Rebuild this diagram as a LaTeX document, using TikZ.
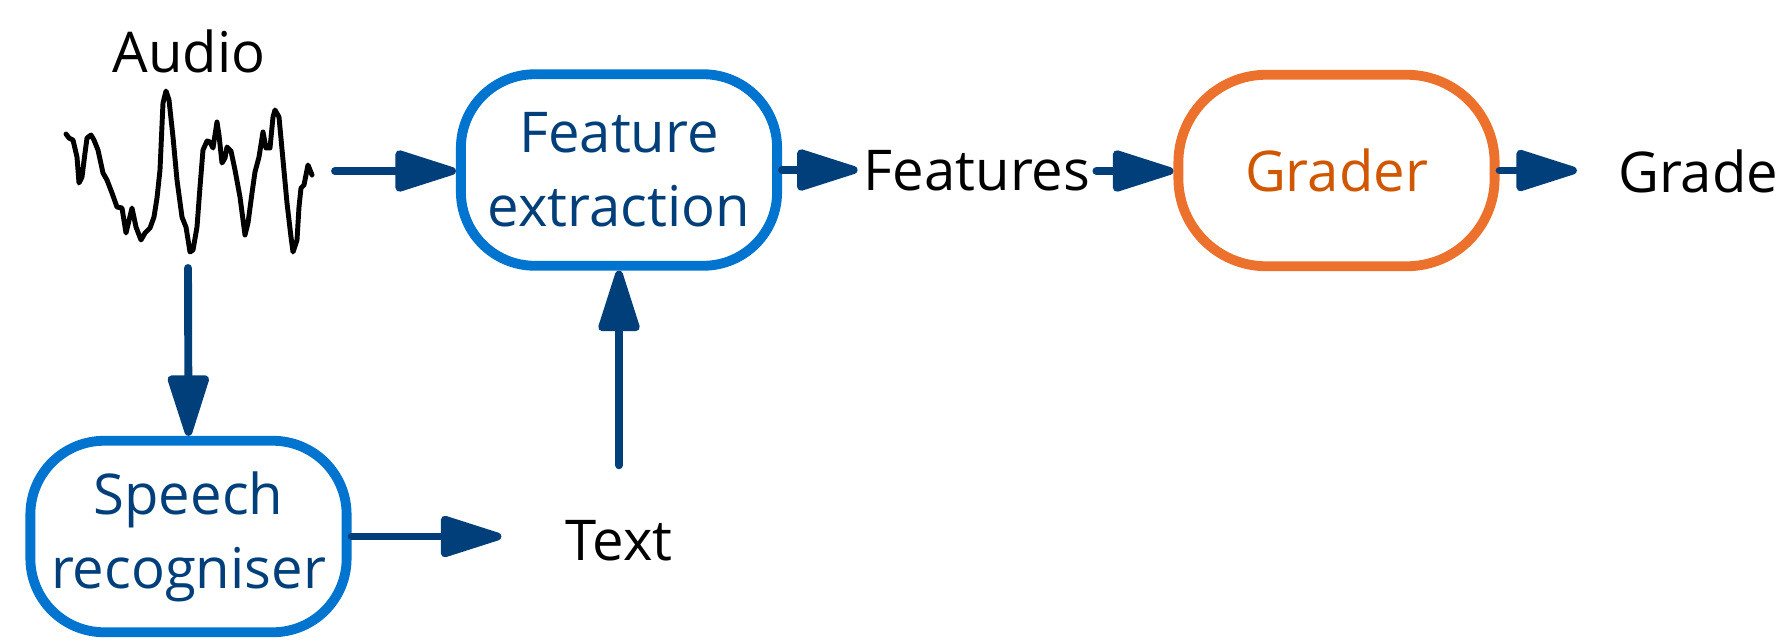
\documentclass[tikz,border=0pt]{standalone}
\usepackage{fontspec}
\setmainfont{Open Sans}
\usetikzlibrary{arrows.meta, positioning}
\definecolor{navyblue}{RGB}{0, 63, 122}
\definecolor{boxblue}{RGB}{0, 116, 206}
\definecolor{boxorange}{RGB}{236, 113, 45}
\definecolor{darkorange}{RGB}{208, 86, 0}

\begin{document}
\begin{tikzpicture}[> = {Triangle[length=40pt, width=24pt, round]}, x=0.02cm, y=-0.02cm,
	blockbox/.style={draw=boxblue, line width=5.6pt, rounded corners=42pt, minimum width=180pt, minimum height=109pt, align=center, text=navyblue, font=\fontsize{32}{42}\selectfont},
	gradebox/.style={blockbox, draw=boxorange, text=darkorange, rounded corners=50pt},
	lbl/.style={font=\fontsize{32}{42}\selectfont, text=black},
	arr/.style={->, navyblue, line width=4.5pt, line cap=round}]
	\useasboundingbox (0,0) rectangle (1778,640);

	% audio waveform
	\node[lbl] (audio) at (189,51) {Audio};
	\draw[line width=2.8pt, line join=round, line cap=round] plot coordinates {
		(66,134) (69,138) (73,140) (77,157) (79,183) (82,177) (85,153) (87,138) (91,135) (94,140)
		(98,150) (103,173) (107,180) (112,193) (117,207) (122,208) (126,233) (132,208) (136,227)
		(141,240) (145,233) (150,228) (154,217) (157,198) (160,170) (163,103) (166,91) (169,100)
		(173,137) (177,180) (182,217) (186,227) (190,252) (193,250) (197,227) (200,187) (203,150)
		(207,141) (210,142) (213,148) (217,122) (219,135) (222,163) (225,158) (227,147) (231,151)
		(235,170) (240,197) (245,235) (248,223) (252,193) (255,172) (259,157) (263,132) (266,148)
		(270,148) (273,117) (275,110) (279,117) (283,160) (287,203) (291,237) (293,252) (297,240)
		(299,207) (301,188) (304,185) (308,165) (312,175)};
	\coordinate (waveout) at (335,171);
	\coordinate (wavedown) at (188,268);

	% blocks
	\node[blockbox] (fe) at (619,170) {Feature\\extraction};
	\node[blockbox] (sr) at (188.5,536.5) {Speech\\recogniser};
	\node[gradebox] (grader) at (1336.5,170.5) {Grader};

	% labels
	\node[lbl] (txt) at (619,541) {Text};
	\node[lbl] (feat) at (977,171) {Features};
	\node[lbl, anchor=west] (grade) at (1612,171) {Grade};

	% arrows
	\draw[arr] (waveout) -- (waveout -| fe.west);
	\draw[arr] (wavedown) -- (sr.north);
	\draw[arr, shorten >=33pt] (sr.east) -- (sr.east -| txt.west);
	\draw[arr, shorten <=28pt] (txt.north) -- (fe.south);
	\draw[arr] (fe.east) -- (fe.east -| feat.west);
	\draw[arr] (feat.east) -- (feat.east -| grader.west);
	\draw[arr, shorten >=20pt] (grader.east) -- (grader.east -| grade.west);
\end{tikzpicture}
\end{document}
